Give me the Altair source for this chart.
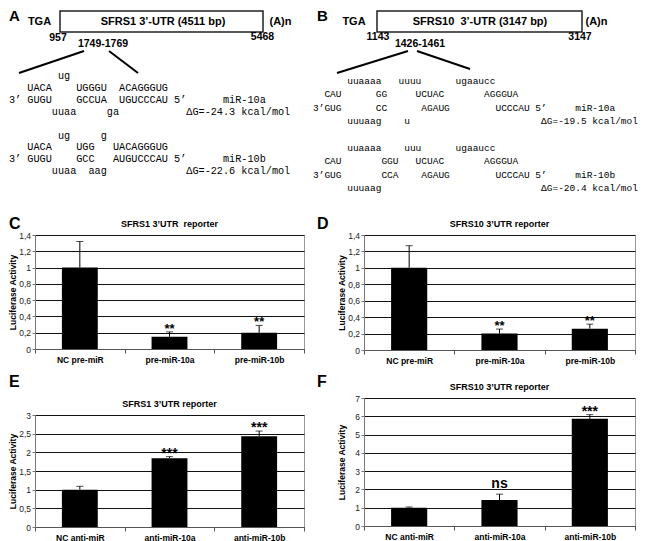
import altair as alt
import pandas as pd

FONT = "Liberation Sans"
MONO = "Liberation Mono"
NB = "\u00a0"
ZW = "\u200b"

# ---------------- Panel A (SFRS1 3'-UTR) ----------------
A_header = ["TGA", "SFRS1 3’-UTR (4511 bp)", "(A)n"]
A_coords = ["957", "1749-1769", "5468"]
A_rows = [
    " " * 8 + "ug",
    " " * 3 + "UACA" + " " * 4 + "UGGGU" + " " * 2 + "ACAGGGUG",
    "3’ GUGU" + " " * 4 + "GCCUA" + " " * 2 + "UGUCCCAU 5’" + " " * 6 + "miR-10a",
    " " * 7 + "uuaa" + " " * 5 + "ga" + " " * 11 + "ΔG=-24.3 kcal/mol",
    "",
    " " * 8 + "ug" + " " * 5 + "g",
    " " * 3 + "UACA" + " " * 4 + "UGG" + " " * 3 + "UACAGGGUG",
    "3’ GUGU" + " " * 4 + "GCC" + " " * 3 + "AUGUCCCAU 5’" + " " * 6 + "miR-10b",
    " " * 7 + "uuaa" + " " * 2 + "aag" + " " * 13 + "ΔG=-22.6 kcal/mol",
]

# ---------------- Panel B (SFRS10 3'-UTR) ----------------
B_header = ["TGA", "SFRS10  3’-UTR (3147 bp)", "(A)n"]
B_coords = ["1143", "1426-1461", "3147"]
B_rows = [
    " " * 6 + "uuaaaa" + " " * 3 + "uuuu" + " " * 6 + "ugaaucc",
    " " * 2 + "CAU" + " " * 6 + "GG" + " " * 5 + "UCUAC" + " " * 7 + "AGGGUA",
    "3’GUG" + " " * 6 + "CC" + " " * 6 + "AGAUG" + " " * 8 + "UCCCAU 5’" + " " * 5 + "miR-10a",
    " " * 6 + "uuuaag" + " " * 4 + "u" + " " * 23 + "ΔG=-19.5 kcal/mol",
    "",
    " " * 6 + "uuaaaa" + " " * 4 + "uuu" + " " * 6 + "ugaaucc",
    " " * 2 + "CAU" + " " * 7 + "GGU" + " " * 3 + "UCUAC" + " " * 7 + "AGGGUA",
    "3’GUG" + " " * 7 + "CCA" + " " * 4 + "AGAUG" + " " * 8 + "UCCCAU 5’" + " " * 5 + "miR-10b",
    " " * 6 + "uuuaag" + " " * 28 + "ΔG=-20.4 kcal/mol",
]

# ---------------- Bar panels ----------------
Y_TITLE = "Luciferase Activity"

C_cats = ["NC pre-miR", "pre-miR-10a", "pre-miR-10b"]
C_vals = [1.0, 0.15, 0.20]
C_errs = [0.32, 0.06, 0.09]
C_marks = ["", "**", "**"]

D_cats = ["NC pre-miR", "pre-miR-10a", "pre-miR-10b"]
D_vals = [1.0, 0.20, 0.26]
D_errs = [0.27, 0.055, 0.055]
D_marks = ["", "**", "**"]

E_cats = ["NC anti-miR", "anti-miR-10a", "anti-miR-10b"]
E_vals = [1.0, 1.84, 2.43]
E_errs = [0.09, 0.045, 0.14]
E_marks = ["", "***", "***"]

F_cats = ["NC anti-miR", "anti-miR-10a", "anti-miR-10b"]
F_vals = [1.0, 1.42, 5.86]
F_errs = [0.04, 0.32, 0.23]
F_marks = ["", "ns", "***"]

CD_ticks = [0, 0.2, 0.4, 0.6, 0.8, 1.0, 1.2, 1.4]
E_ticks = [0, 0.5, 1.0, 1.5, 2.0, 2.5, 3.0]
F_ticks = [0, 1, 2, 3, 4, 5, 6, 7]


def one(text):
    return alt.Chart(alt.Data(values=[{"t": text.replace(" ", NB)}]))


def label(text, x, y, size=11, weight="bold", align="center", baseline="middle"):
    return one(text).mark_text(
        font=FONT, fontSize=size, fontWeight=weight, align=align,
        baseline=baseline, color="black"
    ).encode(x=alt.value(x), y=alt.value(y), text="t:N")


def box(x1, x2, y1, y2):
    return one("").mark_rect(fill="white", stroke="#222", strokeWidth=1.5).encode(
        x=alt.value(x1), x2=alt.value(x2), y=alt.value(y1), y2=alt.value(y2))


def seg(x1, y1, x2, y2):
    return one("").mark_rule(color="black", strokeWidth=2).encode(
        x=alt.value(x1), y=alt.value(y1), x2=alt.value(x2), y2=alt.value(y2))


def seq_layer(rows, x0, fsize, y0, y1):
    # zero-width prefix keeps the leading (non-breaking) spaces of each alignment row
    df = pd.DataFrame({"row": list(range(len(rows))),
                       "seq": [ZW + r.replace(" ", NB) if r else "" for r in rows]})
    return alt.Chart(df).mark_text(
        font=MONO, fontSize=fsize, align="left", baseline="middle", color="black"
    ).encode(
        x=alt.value(x0),
        y=alt.Y("row:Q", scale=alt.Scale(domain=[0, len(rows) - 1], range=[y0, y1]), axis=None),
        text="seq:N",
    )


panelA = alt.layer(
    label("A", -26, 11, size=15, align="left", baseline="alphabetic"),
    label(A_header[0], 4.5, 12),
    box(25, 228, 1, 22),
    label(A_header[1], 128, 12),
    label(A_header[2], 245.5, 12),
    label(A_coords[0], 23, 28, size=10.5),
    label(A_coords[1], 68, 34, size=10.5),
    label(A_coords[2], 227.5, 27, size=10.5),
    seg(49, 41, -16, 63),
    seg(74, 41, 103, 63),
    seq_layer(A_rows, -26, 10.2, 66, 161.2),
).properties(width=269, height=159, view=alt.ViewBackground(stroke="transparent"))

panelB = alt.layer(
    label("B", -47, 11, size=15, align="left", baseline="alphabetic"),
    label(B_header[0], -10, 12),
    box(13, 218, 1, 22),
    label(B_header[1], 116, 12),
    label(B_header[2], 232.5, 12),
    label(B_coords[0], 14, 27, size=10.5),
    label(B_coords[1], 56, 34, size=10.5),
    label(B_coords[2], 216, 27, size=10.5),
    seg(44, 41, -27, 63),
    seg(53, 41, 106, 59),
    seq_layer(B_rows, -51, 9.5, 71, 178.2),
).properties(width=271, height=177, view=alt.ViewBackground(stroke="transparent"))


def bar_panel(cats, vals, errs, marks, ticks, w, h, title, letter, lx, ly, star_size):
    df = pd.DataFrame({
        "cat": cats, "val": vals,
        "top": [v + e for v, e in zip(vals, errs)],
        "mark": marks,
    })
    x = alt.X("cat:N", sort=cats, title=None,
              scale=alt.Scale(paddingInner=0, paddingOuter=0),
              axis=alt.Axis(labelAngle=0, tickBand="extent", grid=False,
                            labelFont=FONT, labelFontWeight="bold", labelFontSize=8.5,
                            labelColor="black", labelPadding=2, tickSize=4,
                            domainColor="#555", tickColor="#555"))
    yscale = alt.Scale(domain=[ticks[0], ticks[-1]], nice=False)
    yaxis = alt.Axis(values=ticks,
                     labelExpr="replace(format(datum.value, '~g'), '.', ',')",
                     grid=True, gridColor="#111", gridWidth=1,
                     tickSize=3, tickColor="#777", domainColor="#777",
                     labelFont=FONT, labelFontSize=8.5, labelColor="#222", labelPadding=1.5,
                     titleFont=FONT, titleFontSize=8.5, titleFontWeight="bold",
                     titleColor="black", titleX=-17.5)

    def Y(field):
        return alt.Y(field, scale=yscale, axis=yaxis, title=Y_TITLE)

    base = alt.Chart(df)
    bars = base.mark_bar(color="black", width=alt.RelativeBandSize(0.4)).encode(x=x, y=Y("val:Q"))
    err = base.mark_rule(color="black", strokeWidth=1).encode(x=x, y=Y("val:Q"), y2="top:Q")
    cap = base.mark_tick(color="black", size=7, thickness=1, orient="horizontal").encode(x=x, y=Y("top:Q"))
    stars = base.transform_filter("indexof(datum.mark, '*') >= 0").mark_text(
        font=FONT, fontSize=star_size, fontWeight="bold", baseline="alphabetic", dy=1, color="black"
    ).encode(x=x, y=Y("top:Q"), text="mark:N")
    ns = base.transform_filter("datum.mark == 'ns'").mark_text(
        font=FONT, fontSize=14, fontWeight="bold", baseline="alphabetic", dy=-6, color="black"
    ).encode(x=x, y=Y("top:Q"), text="mark:N")
    let = label(letter, lx, ly, size=16, align="left", baseline="alphabetic")
    ttl = label(title, w / 2, -11, size=9)
    return alt.layer(bars, err, cap, stars, ns, let, ttl).properties(width=w, height=h)


panelC = bar_panel(C_cats, C_vals, C_errs, C_marks, CD_ticks, 269, 114,
                   "SFRS1 3’UTR  reporter", "C", -26, -6, 13)
panelD = bar_panel(D_cats, D_vals, D_errs, D_marks, CD_ticks, 271, 115,
                   "SFRS10 3’UTR reporter", "D", -47, -6, 13)
panelE = bar_panel(E_cats, E_vals, E_errs, E_marks, E_ticks, 269, 112,
                   "SFRS1 3’UTR reporter", "E", -26, -28, 14)
panelF = bar_panel(F_cats, F_vals, F_errs, F_marks, F_ticks, 271, 128,
                   "SFRS10 3’UTR reporter", "F", -47, -11, 14)

left = alt.vconcat(panelA, panelC, panelE, spacing=66, bounds="flush")
right = alt.vconcat(panelB, panelD, panelF, spacing=48, bounds="flush")

chart = alt.hconcat(left, right, spacing=7).properties(
    padding=0
).configure(font=FONT).configure_view(stroke="#999", strokeWidth=1)

chart.save("out.html", embed_options={"renderer": "svg", "actions": False})
